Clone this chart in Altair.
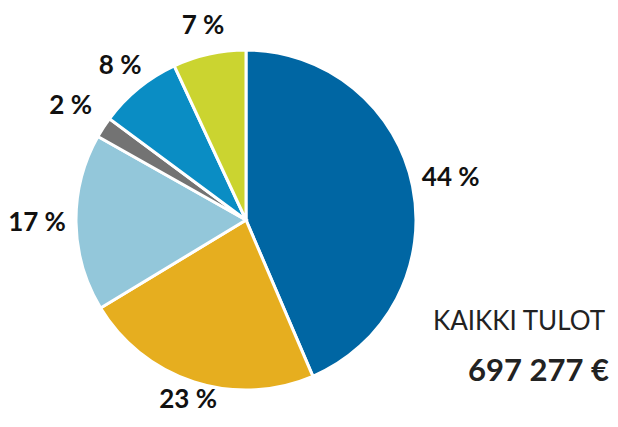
import altair as alt
import pandas as pd

labels = ["44 %", "23 %", "17 %", "2 %", "8 %", "7 %"]
values = [44, 23, 17, 2, 8, 7]
colors = ["#0066a3", "#e6ae1f", "#93c7da", "#737373", "#0a8dc4", "#cbd430"]
total_label = "KAIKKI TULOT"
total_value = "697 277 €"

df = pd.DataFrame({"label": labels, "value": values, "idx": list(range(len(values)))})
total = sum(values)

FONT = "Lato"
cx, cy = 238, 212
tscale = alt.Scale(domain=[0, total], range=[0, 6.283185307179586])

arcs = alt.Chart(df).mark_arc(outerRadius=170, stroke="white", strokeWidth=3).encode(
    theta=alt.Theta("value:Q", stack=True, scale=tscale),
    order=alt.Order("idx:Q"),
    x=alt.value(cx), y=alt.value(cy),
    color=alt.Color("label:N", scale=alt.Scale(domain=labels, range=colors), legend=None),
)

def label_layer(names, r):
    return (
        alt.Chart(df)
        .transform_window(cum="sum(value)", sort=[alt.SortField("idx")])
        .transform_calculate(mid="datum.cum - datum.value / 2")
        .transform_filter(alt.FieldOneOfPredicate(field="label", oneOf=names))
        .mark_text(radius=r, font=FONT, fontWeight="bold", fontSize=26, color="#111")
        .encode(
            theta=alt.Theta("mid:Q", scale=tscale),
            x=alt.value(cx), y=alt.value(cy), text="label:N",
        )
    )

side = label_layer(["44 %", "17 %", "2 %"], 209)
bottom = label_layer(["23 %"], 189)
top = label_layer(["8 %", "7 %"], 199)

tdf = pd.DataFrame({"a": [total_label], "b": [total_value]})
t1 = alt.Chart(tdf).mark_text(font=FONT, fontSize=26, align="right", baseline="alphabetic", color="#222").encode(
    x=alt.value(597), y=alt.value(322), text="a:N")
t2 = alt.Chart(tdf).mark_text(font=FONT, fontWeight="bold", fontSize=31, align="right", baseline="alphabetic", color="#222").encode(
    x=alt.value(601), y=alt.value(373), text="b:N")

chart = alt.layer(arcs, side, bottom, top, t1, t2).properties(
    width=602, height=411, autosize=alt.AutoSizeParams(type="none"), padding=0
).configure_view(stroke=None)

chart.save("out.html", embed_options={"renderer": "svg", "actions": False})
